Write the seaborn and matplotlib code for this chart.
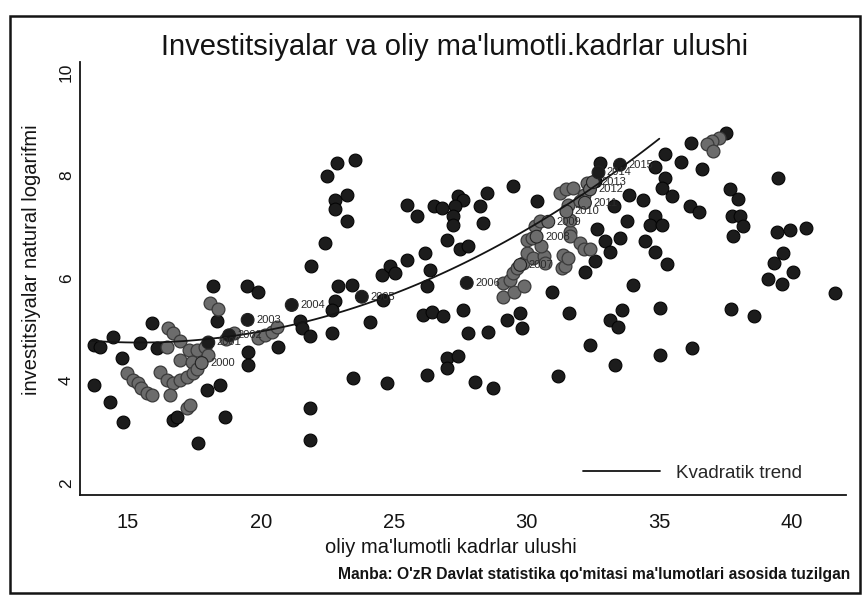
import matplotlib
matplotlib.use("Agg")
import matplotlib.pyplot as plt
from matplotlib.patches import Rectangle
import pandas as pd
import seaborn as sns

# ---- data -------------------------------------------------------------
title = "Investitsiyalar va oliy ma'lumotli.kadrlar ulushi"
x_label = "oliy ma'lumotli kadrlar ulushi"
y_label = "investitsiyalar natural logarifmi"
legend_label = "Kvadratik trend"
source = "Manba: O'zR Davlat statistika qo'mitasi ma'lumotlari asosida tuzilgan"

x_ticks = [15, 20, 25, 30, 35, 40]
y_ticks = [2, 4, 6, 8, 10]

# regional observations (dark markers)
dark_x = [18.2, 19.47, 19.9, 18.34, 15.9, 14.45, 13.7, 13.95, 15.45, 16.08, 14.76, 13.7,
          14.32, 14.82, 16.7, 16.83, 17.96, 18.46, 18.65, 17.65, 19.53, 19.53, 20.66,
          21.48, 21.54, 21.85, 22.67, 23.48, 24.74, 21.85, 21.85,
          22.86, 23.55, 22.48, 22.8, 23.24, 22.8, 23.24, 22.42, 21.9, 25.5, 25.5, 24.55,
          24.86, 25.05, 22.92, 23.42, 24.6, 22.8, 22.67, 24.1,
          25.87, 26.5, 26.8, 27.43, 27.62, 27.3, 27.25, 27.25, 28.5, 28.25, 28.38, 29.5,
          30.38, 27.0, 27.5, 27.8, 26.18, 26.37, 26.25, 26.12, 26.43, 26.87, 27.62, 27.81,
          28.56, 29.26, 29.76, 29.82, 30.95, 31.6, 27.0, 27.0, 27.43, 26.25, 28.06, 28.75,
          31.2,
          35.22, 35.8, 34.84, 35.22, 35.09, 35.47, 33.84, 34.4, 33.3, 32.64, 33.77, 34.84,
          34.65, 35.09, 34.46, 34.84, 35.28, 32.96, 33.52, 33.15, 32.58, 32.2, 34.02, 33.58,
          33.15, 33.46, 35.03, 32.39, 33.34, 35.03, 36.22, 32.77, 32.58,
          36.2, 37.5, 36.6, 39.48, 37.67, 37.98, 36.15, 36.5, 37.73, 38.04, 38.14, 37.79,
          39.42, 39.92, 40.53, 39.67, 39.3, 40.03, 39.11, 39.61, 41.62, 37.7, 38.58]
dark_y = [5.83, 5.83, 5.73, 5.15, 5.12, 4.85, 4.69, 4.66, 4.73, 4.63, 4.43, 3.91,
          3.59, 3.2, 3.23, 3.29, 3.81, 3.91, 3.29, 2.79, 4.56, 4.3, 4.66,
          5.15, 5.02, 4.86, 4.93, 4.04, 3.95, 3.46, 2.84,
          8.24, 8.3, 7.98, 7.52, 7.62, 7.33, 7.1, 6.68, 6.22, 7.42, 6.35, 6.06,
          6.22, 6.09, 5.83, 5.86, 5.57, 5.54, 5.38, 5.13,
          7.2, 7.39, 7.36, 7.59, 7.52, 7.39, 7.2, 7.03, 7.65, 7.39, 7.07, 7.78,
          7.49, 6.74, 6.55, 6.61, 6.48, 6.16, 5.83, 5.28, 5.34, 5.25, 5.38, 4.92,
          4.95, 5.18, 5.31, 5.02, 5.73, 5.32, 4.43, 4.24, 4.47, 4.11, 3.98, 3.85,
          4.09,
          8.4, 8.26, 8.15, 7.95, 7.75, 7.59, 7.62, 7.52, 7.4, 6.95, 7.1, 7.2,
          7.03, 7.03, 6.71, 6.51, 6.27, 6.71, 6.77, 6.51, 6.32, 6.12, 5.85, 5.38,
          5.18, 5.05, 5.42, 4.69, 4.3, 4.5, 4.63, 8.24, 7.88,
          8.63, 8.82, 8.11, 7.95, 7.72, 7.54, 7.39, 7.28, 7.2, 7.2, 7.0, 6.82,
          6.89, 6.92, 6.97, 6.48, 6.29, 6.11, 5.97, 5.88, 5.71, 5.4, 5.26]

# observations drawn in grey
gray_x = [18.1, 18.4, 16.5, 16.7, 16.46, 16.95, 17.3, 17.6, 17.9, 18.0, 16.95, 17.4,
          14.95, 15.2, 15.39, 15.5, 15.7, 15.9,
          16.2, 16.46, 16.7, 16.95, 17.2, 17.45, 17.6,
          16.58, 17.2, 17.33,
          18.7, 19.0, 19.9, 20.15, 20.4, 20.6,
          29.13, 29.52, 29.9, 29.13, 29.38, 29.5, 29.63, 29.88, 30.0, 30.26, 30.64, 30.7,
          30.0, 30.2, 30.55, 30.32, 30.5, 31.33, 31.45, 31.39, 31.58, 31.64, 31.64, 32.0,
          32.15, 32.4, 31.58, 31.64, 31.26, 31.5, 31.76, 32.27, 32.15, 32.0,
          37.23, 36.97, 36.78, 37.03]
gray_y = [5.5, 5.4, 5.02, 4.92, 4.66, 4.76, 4.6, 4.6, 4.66, 4.5, 4.4, 4.35,
          4.14, 4.0, 3.95, 3.85, 3.75, 3.72,
          4.17, 4.0, 3.95, 4.0, 4.07, 4.14, 4.22,
          3.72, 3.46, 3.52,
          4.81, 4.92, 4.83, 4.88, 4.95, 5.05,
          5.62, 5.72, 5.83, 5.9, 5.96, 6.09, 6.19, 6.29, 6.48, 6.38, 6.42, 6.29,
          6.74, 6.77, 6.62, 7.0, 7.1, 6.19, 6.22, 6.45, 6.38, 6.9, 6.81, 6.68,
          6.55, 6.55, 7.42, 7.13, 7.65, 7.72, 7.75, 7.85, 7.62, 7.49,
          8.73, 8.66, 8.6, 8.47]

# national series, labelled by year
years = [2000, 2001, 2002, 2003, 2004, 2005, 2006, 2007, 2008, 2009, 2010, 2011,
         2012, 2013, 2014, 2015]
year_x = [17.77, 18.02, 18.8, 19.5, 21.16, 23.8, 27.75, 29.76, 30.38, 30.82, 31.5,
          32.2, 32.39, 32.5, 32.71, 33.52]
year_y = [4.34, 4.74, 4.88, 5.18, 5.47, 5.63, 5.9, 6.25, 6.8, 7.09, 7.29, 7.46,
          7.72, 7.86, 8.05, 8.2]
year_shade = ["g", "d", "d", "d", "d", "d", "d", "g", "g", "g", "g", "g",
              "g", "g", "d", "d"]

# quadratic trend curve
trend_x = [13.6, 14, 15, 16, 17, 18, 19, 20, 21, 22, 23, 24, 25, 26, 27, 28, 29,
           30, 31, 32, 33, 34, 35]
trend_y = [4.78, 4.76, 4.74, 4.74, 4.76, 4.81, 4.87, 4.95, 5.06, 5.18, 5.33, 5.50,
           5.69, 5.90, 6.13, 6.38, 6.65, 6.94, 7.25, 7.58, 7.93, 8.31, 8.71]

# ---- styling ------------------------------------------------------------
sns.set_theme(style="white")
plt.rcParams["font.family"] = ["Liberation Sans", "DejaVu Sans"]

INK = "#141414"
DARK = "#1c1c1c"
GREY = "#6c6c6c"

fig = plt.figure(figsize=(8.68, 6.02), dpi=100, facecolor="white")
ax = fig.add_axes([0.0922, 0.1777, 0.8825, 0.7193])
ax.set_facecolor("white")

dark_df = pd.DataFrame({"x": dark_x, "y": dark_y})
gray_df = pd.DataFrame({"x": gray_x, "y": gray_y})
year_df = pd.DataFrame({"x": year_x, "y": year_y, "shade": year_shade})

sns.scatterplot(data=dark_df, x="x", y="y", color=DARK, s=85, edgecolor="#050505",
                linewidth=0.8, legend=False, ax=ax, zorder=2)
sns.scatterplot(data=gray_df, x="x", y="y", color=GREY, s=85, edgecolor="#3a3a3a",
                linewidth=0.9, legend=False, ax=ax, zorder=2)
sns.scatterplot(data=year_df, x="x", y="y", hue="shade",
                palette={"d": DARK, "g": GREY}, s=85, edgecolor="#222222",
                linewidth=0.8, legend=False, ax=ax, zorder=3)

sns.regplot(x=trend_x, y=trend_y, order=2, scatter=False, ci=None, truncate=True,
            line_kws=dict(color=INK, lw=1.3), ax=ax)
trend_line = ax.lines[-1]
trend_line.set_zorder(4)
trend_line.set_label(legend_label)

for yr, xv, yv in zip(years, year_x, year_y):
    ax.annotate(str(yr), (xv, yv), xytext=(6, 0), textcoords="offset points",
                fontsize=8, va="center", ha="left", color="#2a2a2a", zorder=5)

ax.set_xlim(13.19, 42.03)
ax.set_ylim(1.77, 10.2)
ax.set_xticks(x_ticks)
ax.set_yticks(y_ticks)
ax.set_xticklabels([str(v) for v in x_ticks])
ax.set_yticklabels([str(v) for v in y_ticks])
ax.tick_params(axis="both", direction="out", length=4.5, width=1.1, color=INK,
               labelcolor=INK)
ax.tick_params(axis="x", labelsize=14.5, pad=8.5)
ax.tick_params(axis="y", labelsize=12.5, pad=0)
for lab in ax.get_yticklabels():
    lab.set_rotation(90)
    lab.set_va("center")
    lab.set_ha("right")

sns.despine(ax=ax)
for side in ("left", "bottom"):
    ax.spines[side].set_linewidth(1.3)
    ax.spines[side].set_color(INK)

ax.set_xlabel(x_label, fontsize=14.5, color=INK)
ax.xaxis.set_label_coords(0.484, -0.099)
ax.set_ylabel(y_label, fontsize=14.5, color=INK)
ax.yaxis.set_label_coords(-0.051, 0.544)

ax.legend([trend_line], [legend_label], loc="center left",
          bbox_to_anchor=(0.657, 0.0508), frameon=False, fontsize=13.5,
          handlelength=4.1, handletextpad=0.85, borderpad=0, borderaxespad=0)

fig.text(0.524, 0.922, title, ha="center", va="center", fontsize=21, color=INK)
fig.text(0.979, 0.045, source, ha="right", va="center", fontsize=11.25,
         fontweight="bold", color=INK)

fig.add_artist(Rectangle((0.0115, 0.015), 0.979, 0.958, transform=fig.transFigure,
                         fill=False, lw=1.8, ec=INK))

fig.savefig("out.png", dpi=100, facecolor="white")
